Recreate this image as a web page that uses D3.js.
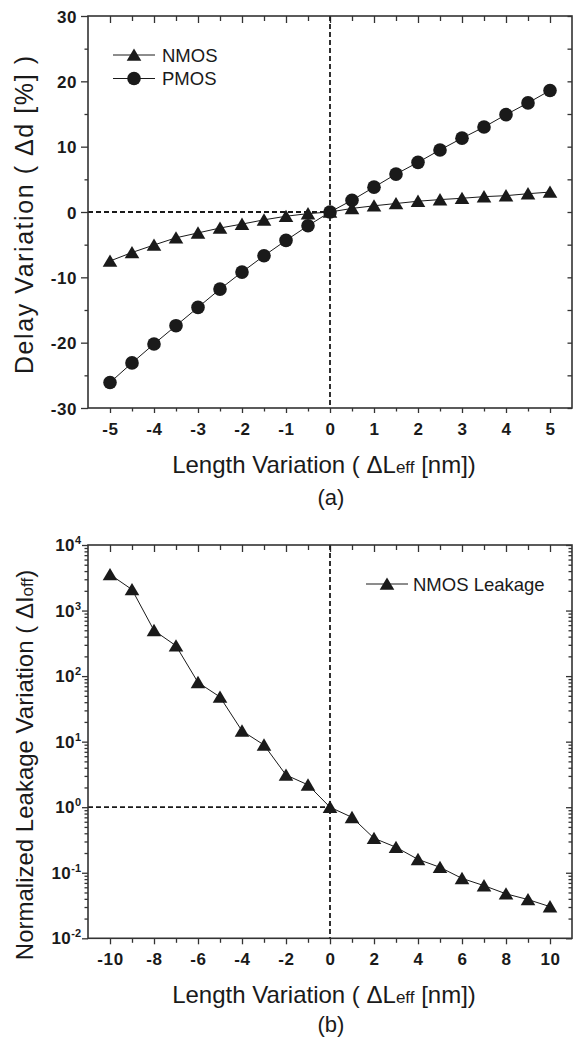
<!DOCTYPE html>
<html>
<head>
<meta charset="utf-8">
<script src="https://cdn.jsdelivr.net/npm/d3@7"></script>
<style>
  html, body { margin: 0; padding: 0; background: #fff; }
  svg { display: block; font-family: "Liberation Sans", Arial, Helvetica, sans-serif; }
</style>
</head>
<body>
<svg id="chart" width="573" height="1040"></svg>
<script>
// ---------- Data ----------
const delayX = [-5, -4.5, -4, -3.5, -3, -2.5, -2, -1.5, -1, -0.5, 0, 0.5, 1, 1.5, 2, 2.5, 3, 3.5, 4, 4.5, 5];
const nmosDelay = [-7.5, -6.2, -5.05, -3.95, -3.2, -2.45, -1.85, -1.2, -0.65, -0.25, 0, 0.55, 0.95, 1.3, 1.65, 1.9, 2.1, 2.35, 2.5, 2.8, 3.05];
const pmosDelay = [-26.1, -23.1, -20.2, -17.4, -14.6, -11.8, -9.2, -6.7, -4.35, -2.1, 0, 1.8, 3.8, 5.8, 7.6, 9.5, 11.3, 13.0, 14.9, 16.7, 18.6];

const leakX = [-10, -9, -8, -7, -6, -5, -4, -3, -2, -1, 0, 1, 2, 3, 4, 5, 6, 7, 8, 9, 10];
const nmosLeak = [3550, 2090, 497, 290, 80, 48, 14.6, 8.9, 3.1, 2.19, 1, 0.70, 0.336, 0.245, 0.16, 0.121, 0.082, 0.0636, 0.0477, 0.039, 0.0304];

const delayXTicks = [-5, -4, -3, -2, -1, 0, 1, 2, 3, 4, 5];
const delayXMinor = [-4.5, -3.5, -2.5, -1.5, -0.5, 0.5, 1.5, 2.5, 3.5, 4.5];
const delayYTicks = [-30, -20, -10, 0, 10, 20, 30];
const delayYMinor = [-25, -15, -5, 5, 15, 25];
const leakXTicks = [-10, -8, -6, -4, -2, 0, 2, 4, 6, 8, 10];
const leakXMinor = [-9, -7, -5, -3, -1, 1, 3, 5, 7, 9];
const leakYExponents = [-2, -1, 0, 1, 2, 3, 4];

// ---------- Setup ----------
const svg = d3.select("#chart");
const INK = "#1a1a1a";
const FRAME = "#333";
const L = 88, R = 572;
const fmt = d => String(d); // plain hyphen-minus as in the original

function triPath() {
  const w = 7.3, up = 6.6, dn = 5.8;
  return `M0,${-up}L${w},${dn}L${-w},${dn}Z`;
}

function styleAxis(g) {
  g.select(".domain").remove();
  g.selectAll("line").attr("stroke", FRAME).attr("stroke-width", 1.3);
}

function drawFrame(g, top, bottom) {
  g.append("rect").attr("x", L).attr("y", top).attr("width", R - L).attr("height", bottom - top)
    .attr("fill", "none").attr("stroke", FRAME).attr("stroke-width", 1.6);
}

function styleTickText(ax) {
  ax.selectAll("text").attr("font-family", "'Liberation Sans', Arial, sans-serif")
    .attr("font-size", 17).attr("font-weight", "bold").attr("fill", INK).attr("letter-spacing", 0.6);
}

// ---------- Chart (a) ----------
(function () {
  const top = 16, bottom = 408;
  const x = d3.scaleLinear().domain([-5.5, 5.5]).range([L, R]);
  const y = d3.scaleLinear().domain([-30, 30]).range([bottom, top]);
  const g = svg.append("g");

  const ax = g.append("g");
  ax.append("g").attr("transform", `translate(0,${bottom})`)
    .call(d3.axisBottom(x).tickValues(delayXTicks).tickSize(5).tickFormat(fmt))
    .call(styleAxis)
    .call(s => s.selectAll("text").attr("y", 27).attr("dy", 0));
  ax.append("g").attr("transform", `translate(0,${bottom})`)
    .call(d3.axisBottom(x).tickValues(delayXMinor).tickSize(3.5).tickFormat(""))
    .call(styleAxis);
  ax.append("g").attr("transform", `translate(0,${top})`)
    .call(d3.axisTop(x).tickValues(delayXTicks).tickSize(-7).tickFormat(""))
    .call(styleAxis);
  ax.append("g").attr("transform", `translate(0,${top})`)
    .call(d3.axisTop(x).tickValues(delayXMinor).tickSize(-5).tickFormat(""))
    .call(styleAxis);
  ax.append("g").attr("transform", `translate(${L},0)`)
    .call(d3.axisLeft(y).tickValues(delayYTicks).tickSize(7).tickFormat(fmt))
    .call(styleAxis)
    .call(s => s.selectAll("text").attr("x", -11).attr("dy", "0.36em"));
  ax.append("g").attr("transform", `translate(${L},0)`)
    .call(d3.axisLeft(y).tickValues(delayYMinor).tickSize(3.5).tickFormat(""))
    .call(styleAxis);
  ax.append("g").attr("transform", `translate(${R},0)`)
    .call(d3.axisRight(y).tickValues(delayYTicks.concat(delayYMinor)).tickSize(-4.5).tickFormat(""))
    .call(styleAxis);
  styleTickText(ax);

  g.append("line").attr("x1", L).attr("x2", x(0)).attr("y1", y(0)).attr("y2", y(0))
    .attr("stroke", INK).attr("stroke-width", 1.8).attr("stroke-dasharray", "5,3");
  g.append("line").attr("x1", x(0)).attr("x2", x(0)).attr("y1", top).attr("y2", bottom)
    .attr("stroke", INK).attr("stroke-width", 1.8).attr("stroke-dasharray", "5,3");

  drawFrame(g, top, bottom);

  const line = d3.line().x((d, i) => x(delayX[i])).y(d => y(d));
  g.append("path").datum(nmosDelay).attr("d", line).attr("fill", "none").attr("stroke", INK).attr("stroke-width", 1);
  g.append("path").datum(pmosDelay).attr("d", line).attr("fill", "none").attr("stroke", INK).attr("stroke-width", 1);

  g.selectAll(".pm").data(pmosDelay).join("circle")
    .attr("cx", (d, i) => x(delayX[i])).attr("cy", d => y(d)).attr("r", 6.8).attr("fill", INK);
  g.selectAll(".nm").data(nmosDelay).join("path")
    .attr("transform", (d, i) => `translate(${x(delayX[i])},${y(d)})`).attr("d", triPath()).attr("fill", INK);

  const lg = g.append("g");
  lg.append("line").attr("x1", 113).attr("x2", 155).attr("y1", 55).attr("y2", 55).attr("stroke", INK).attr("stroke-width", 1);
  lg.append("path").attr("transform", "translate(134,55)").attr("d", triPath()).attr("fill", INK);
  lg.append("text").attr("x", 162).attr("y", 61.5).attr("font-size", 18.5).attr("fill", INK).text("NMOS");
  lg.append("line").attr("x1", 113).attr("x2", 155).attr("y1", 78.5).attr("y2", 78.5).attr("stroke", INK).attr("stroke-width", 1);
  lg.append("circle").attr("cx", 134).attr("cy", 78.5).attr("r", 6.8).attr("fill", INK);
  lg.append("text").attr("x", 162).attr("y", 85).attr("font-size", 18.5).attr("fill", INK).text("PMOS");

  const xt = g.append("text").attr("x", 324).attr("y", 472.5).attr("text-anchor", "middle")
    .attr("font-size", 24).attr("fill", INK);
  xt.append("tspan").text("Length Variation ( \u0394L");
  xt.append("tspan").attr("font-size", 17).text("eff");
  xt.append("tspan").text(" [nm])");

  g.append("text").attr("transform", "translate(33,215) rotate(-90)").attr("text-anchor", "middle")
    .attr("font-size", 25).attr("fill", INK)
    .attr("textLength", 318).attr("lengthAdjust", "spacing")
    .text("Delay Variation ( \u0394d [%] )");

  g.append("text").attr("x", 331).attr("y", 505).attr("text-anchor", "middle")
    .attr("font-size", 22).attr("fill", INK).text("(a)");
})();

// ---------- Chart (b) ----------
(function () {
  const top = 545, bottom = 938.3;
  const x = d3.scaleLinear().domain([-11, 11]).range([L, R]);
  const y = d3.scaleLog().domain([1e-2, 1e4]).range([bottom, top]);
  const g = svg.append("g");

  const majorY = leakYExponents.map(e => Math.pow(10, e));
  const minorY = [];
  leakYExponents.slice(0, -1).forEach(e => { for (let m = 2; m <= 9; m++) minorY.push(m * Math.pow(10, e)); });

  const ax = g.append("g");
  ax.append("g").attr("transform", `translate(0,${bottom})`)
    .call(d3.axisBottom(x).tickValues(leakXTicks).tickSize(6).tickFormat(fmt))
    .call(styleAxis)
    .call(s => s.selectAll("text").attr("y", 27).attr("dy", 0));
  ax.append("g").attr("transform", `translate(0,${bottom})`)
    .call(d3.axisBottom(x).tickValues(leakXMinor).tickSize(4.5).tickFormat(""))
    .call(styleAxis);
  ax.append("g").attr("transform", `translate(0,${top})`)
    .call(d3.axisTop(x).tickValues(leakXTicks).tickSize(-7).tickFormat(""))
    .call(styleAxis);
  ax.append("g").attr("transform", `translate(0,${top})`)
    .call(d3.axisTop(x).tickValues(leakXMinor).tickSize(-5).tickFormat(""))
    .call(styleAxis);
  ax.append("g").attr("transform", `translate(${L},0)`)
    .call(d3.axisLeft(y).tickValues(majorY).tickSize(6).tickFormat(""))
    .call(styleAxis);
  ax.append("g").attr("transform", `translate(${L},0)`)
    .call(d3.axisLeft(y).tickValues(minorY).tickSize(3.5).tickFormat(""))
    .call(styleAxis);
  ax.append("g").attr("transform", `translate(${R},0)`)
    .call(d3.axisRight(y).tickValues(majorY).tickSize(-6).tickFormat(""))
    .call(styleAxis);
  ax.append("g").attr("transform", `translate(${R},0)`)
    .call(d3.axisRight(y).tickValues(minorY).tickSize(-3.5).tickFormat(""))
    .call(styleAxis);
  styleTickText(ax);

  leakYExponents.forEach(e => {
    const t = g.append("text").attr("x", 81).attr("y", y(Math.pow(10, e)) + 6).attr("text-anchor", "end")
      .attr("font-size", 17).attr("font-weight", "bold").attr("fill", INK).attr("letter-spacing", 0.4);
    t.append("tspan").text("10");
    t.append("tspan").attr("font-size", 11).attr("dy", -7).attr("letter-spacing", 0).text(fmt(e));
  });

  g.append("line").attr("x1", L).attr("x2", x(0)).attr("y1", y(1)).attr("y2", y(1))
    .attr("stroke", INK).attr("stroke-width", 1.8).attr("stroke-dasharray", "5,3");
  g.append("line").attr("x1", x(0)).attr("x2", x(0)).attr("y1", top).attr("y2", bottom)
    .attr("stroke", INK).attr("stroke-width", 1.8).attr("stroke-dasharray", "5,3");

  drawFrame(g, top, bottom);

  const line = d3.line().x((d, i) => x(leakX[i])).y(d => y(d));
  g.append("path").datum(nmosLeak).attr("d", line).attr("fill", "none").attr("stroke", INK).attr("stroke-width", 1);
  g.selectAll(".lk").data(nmosLeak).join("path")
    .attr("transform", (d, i) => `translate(${x(leakX[i])},${y(d)})`).attr("d", triPath()).attr("fill", INK);

  const lg = g.append("g");
  lg.append("line").attr("x1", 366).attr("x2", 408).attr("y1", 584).attr("y2", 584).attr("stroke", INK).attr("stroke-width", 1);
  lg.append("path").attr("transform", "translate(387,584)").attr("d", triPath()).attr("fill", INK);
  lg.append("text").attr("x", 413).attr("y", 591).attr("font-size", 18.5).attr("fill", INK).text("NMOS Leakage");

  const xt = g.append("text").attr("x", 324).attr("y", 1002.7).attr("text-anchor", "middle")
    .attr("font-size", 24).attr("fill", INK);
  xt.append("tspan").text("Length Variation ( \u0394L");
  xt.append("tspan").attr("font-size", 17).text("eff");
  xt.append("tspan").text(" [nm])");

  const yt = g.append("text").attr("transform", "translate(33,765) rotate(-90)").attr("text-anchor", "middle")
    .attr("font-size", 24).attr("fill", INK);
  yt.append("tspan").text("Normalized Leakage Variation ( \u0394I");
  yt.append("tspan").attr("font-size", 17).text("off");
  yt.append("tspan").text(")");

  g.append("text").attr("x", 331).attr("y", 1032).attr("text-anchor", "middle")
    .attr("font-size", 22).attr("fill", INK).text("(b)");
})();
</script>
</body>
</html>
